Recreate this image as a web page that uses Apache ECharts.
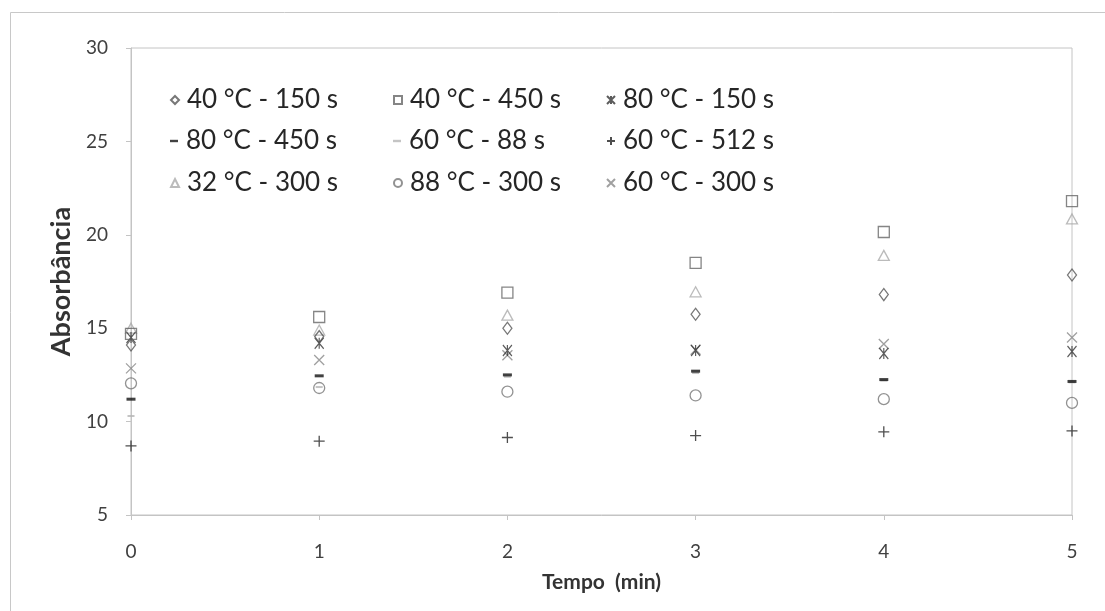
<!DOCTYPE html>
<html>
<head>
<meta charset="utf-8">
<title>Absorbância x Tempo</title>
<script src="https://cdn.jsdelivr.net/npm/echarts@6/dist/echarts.min.js"></script>
<style>
  html, body { margin: 0; padding: 0; background: #fff; }
  #chart { width: 1105px; height: 611px; }
</style>
</head>
<body>
<div id="chart"></div>
<script>
// Time points (min) and tick values
const tempo = [0, 1, 2, 3, 4, 5];
const yTicks = [5, 10, 15, 20, 25, 30];

// Absorbance per treatment (temperature - time)
const a40_150 = [14.1, 14.55, 15.0, 15.75, 16.8, 17.85];
const a40_450 = [14.7, 15.6, 16.9, 18.5, 20.15, 21.8];
const a80_150 = [14.5, 14.2, 13.8, 13.8, 13.65, 13.75];
const a80_450 = [11.2, 12.45, 12.5, 12.7, 12.25, 12.15];
const a60_88 = [10.3, 11.85, 12.4, 12.6, 12.2, 12.1];
const a60_512 = [8.7, 8.95, 9.15, 9.25, 9.45, 9.5];
const a32_300 = [15.0, 14.9, 15.7, 16.95, 18.9, 20.85];
const a88_300 = [12.05, 11.8, 11.6, 11.4, 11.2, 11.0];
const a60_300 = [12.85, 13.3, 13.55, 13.85, 14.15, 14.5];

const names = [
  '40 °C - 150 s', '40 °C - 450 s', '80 °C - 150 s',
  '80 °C - 450 s', '60 °C - 88 s', '60 °C - 512 s',
  '32 °C - 300 s', '88 °C - 300 s', '60 °C - 300 s'
];

const PLUS = 'path://M5,0V10M0,5H10';
const CROSS = 'path://M0,0L10,10M10,0L0,10';
const STAR = 'path://M0,0L10,10M10,0L0,10M5,0V10';
const DASH = 'path://M0,0H10V3H0Z';

// symbol, size, colour, filled?
const styles = [
  { data: a40_150, symbol: 'diamond', size: [9, 12], color: '#555', filled: false },
  { data: a40_450, symbol: 'rect', size: 11, color: '#666', filled: false },
  { data: a80_150, symbol: STAR, size: [9, 11], color: '#333', filled: false },
  { data: a80_450, symbol: 'rect', size: [9, 3], color: '#111', filled: true, icon: DASH },
  { data: a60_88, symbol: 'rect', size: [7, 2], color: '#b5b5b5', filled: true, icon: DASH },
  { data: a60_512, symbol: PLUS, size: 11, color: '#222', filled: false },
  { data: a32_300, symbol: 'triangle', size: [11, 10], color: '#aaa', filled: false },
  { data: a88_300, symbol: 'circle', size: 11, color: '#777', filled: false },
  { data: a60_300, symbol: CROSS, size: 10, color: '#888', filled: false }
];

const series = styles.map((s, i) => ({
  name: names[i],
  type: 'scatter',
  symbol: s.symbol,
  symbolSize: s.size,
  data: tempo.map((t, k) => [t, s.data[k]]),
  itemStyle: s.filled
    ? { color: s.color }
    : { color: 'rgba(0,0,0,0)', borderColor: s.color, borderWidth: 1.3 },
  emphasis: { disabled: true },
  z: 10 - i
}));

// One legend block per entry, laid out in a 3 x 3 table
const colX = [165, 388, 601];
const rowY = [82, 123, 165];
const legends = names.map((n, i) => ({
  data: [styles[i].icon ? { name: n, icon: styles[i].icon } : { name: n }],
  left: colX[i % 3],
  top: rowY[Math.floor(i / 3)],
  itemWidth: 8,
  itemHeight: 8,
  itemGap: 0,
  selectedMode: false,
  textStyle: { fontFamily: 'Lato', fontSize: 26, color: '#262626', padding: [0, 0, 0, 3] }
}));

const chart = echarts.init(document.getElementById('chart'), null, { renderer: 'canvas' });
chart.setOption({
  animation: false,
  backgroundColor: '#fff',
  graphic: [{
    type: 'rect',
    shape: { x: 10.5, y: 12.5, width: 1120, height: 630 },
    style: { fill: 'none', stroke: '#c8c8c8', lineWidth: 1 },
    silent: true
  }],
  legend: legends,
  grid: { left: 131, right: 33, top: 48, bottom: 96, show: true, borderColor: '#c4c4c4', borderWidth: 1 },
  xAxis: {
    type: 'value',
    min: tempo[0],
    max: tempo[tempo.length - 1],
    interval: 1,
    name: 'Tempo  (min)',
    nameLocation: 'middle',
    nameGap: 57,
    nameTextStyle: { fontFamily: 'Lato', fontSize: 21, fontWeight: 'bold', color: '#333' },
    axisLine: { show: true, lineStyle: { color: '#c4c4c4' } },
    axisTick: { show: true, length: 5, inside: false, lineStyle: { color: '#c4c4c4' } },
    axisLabel: { margin: 27, fontFamily: 'Lato', fontSize: 19, color: '#404040' },
    splitLine: { show: false }
  },
  yAxis: {
    type: 'value',
    min: yTicks[0],
    max: yTicks[yTicks.length - 1],
    interval: 5,
    name: 'Absorbância',
    nameLocation: 'middle',
    nameGap: 54,
    nameTextStyle: { fontFamily: 'Lato', fontSize: 27, fontWeight: 'bold', color: '#333' },
    axisLine: { show: true, lineStyle: { color: '#c4c4c4' } },
    axisTick: { show: true, length: 5, lineStyle: { color: '#c4c4c4' } },
    axisLabel: { margin: 23, fontFamily: 'Lato', fontSize: 19, color: '#404040' },
    splitLine: { show: false }
  },
  series: series
});
</script>
</body>
</html>
